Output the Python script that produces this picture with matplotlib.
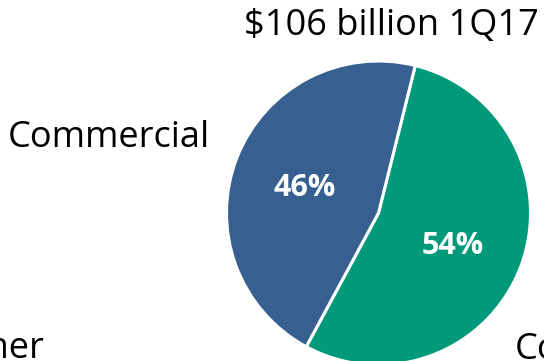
import matplotlib.pyplot as plt

plt.rcParams['font.family'] = ['Open Sans', 'DejaVu Sans']

# loan mix, 1Q17
segments = ['Consumer', 'Commercial']
shares = [54, 46]
colors = ['#00997a', '#375f8f']
title = '$106 billion 1Q17'

fig = plt.figure(figsize=(5.44, 3.61), dpi=100)
ax = fig.add_axes([0, 0, 1, 1])

wedges, _, autotexts = ax.pie(
    shares, colors=colors, startangle=76, counterclock=False,
    center=(378.5, -213), radius=152,
    autopct='%d%%', pctdistance=0.52,
    wedgeprops=dict(edgecolor='white', linewidth=2.2),
    textprops=dict(color='white', fontsize=22, fontweight='bold'))

# nudge the percentages down a little
for t in autotexts:
    x, y = t.get_position()
    t.set_position((x, y - 4))

ax.set_xlim(0, 544)
ax.set_ylim(-361, 0)
ax.set_aspect('equal')
ax.axis('off')

fs = 26
ax.text(391, -35, title, ha='center', va='baseline', fontsize=fs)
ax.text(109, -147, 'Commercial', ha='center', va='baseline', fontsize=fs)
ax.text(45, -358, 'Consumer', ha='right', va='baseline', fontsize=fs)
ax.text(515, -359, 'Consumer', ha='left', va='baseline', fontsize=fs)

fig.savefig('out.png', dpi=100)
